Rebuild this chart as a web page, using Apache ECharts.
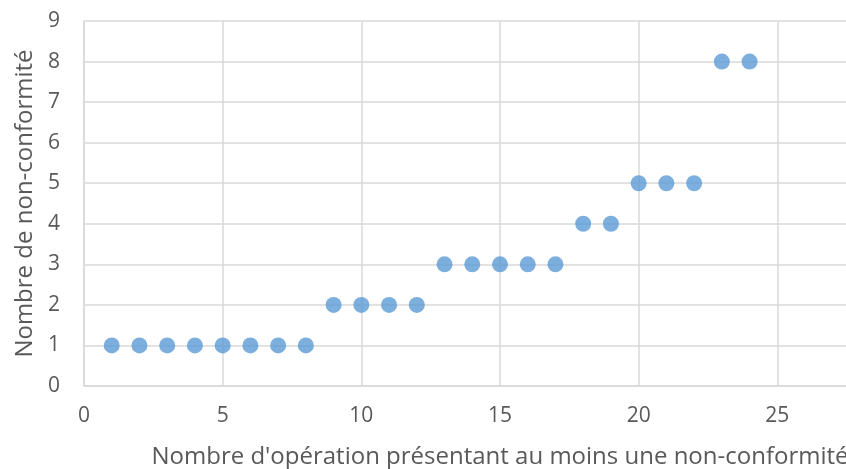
<!DOCTYPE html>
<html><head><meta charset="utf-8">
<script src="https://cdn.jsdelivr.net/npm/echarts@6/dist/echarts.min.js"></script>
<style>html,body{margin:0;padding:0;background:#fff}#c{width:846px;height:469px}</style>
</head><body><div id="c"></div>
<script>
const operations = [1,2,3,4,5,6,7,8,9,10,11,12,13,14,15,16,17,18,19,20,21,22,23,24];
const nonConformites = [1,1,1,1,1,1,1,1,2,2,2,2,3,3,3,3,3,4,4,5,5,5,8,8];
const xTitle = "Nombre d'opération présentant au moins une non-conformité";
const yTitle = "Nombre de non-conformité";
const font = "Open Sans";
const chart = echarts.init(document.getElementById('c'));
chart.setOption({
  animation: false,
  grid: {left: 84, right: -70, top: 21, bottom: 83, outerBoundsMode: 'none', containLabel: false},
  xAxis: {
    type: 'value', min: 0, max: 30, interval: 5,
    name: xTitle, nameLocation: 'middle', nameGap: 59,
    nameTextStyle: {color: '#595959', fontSize: 24, fontFamily: font},
    axisLine: {lineStyle: {color: '#d9d9d9', width: 1.5}},
    axisTick: {show: false},
    axisLabel: {color: '#595959', fontSize: 21, fontFamily: font, margin: 20},
    splitLine: {lineStyle: {color: '#d9d9d9', width: 1.5}}
  },
  yAxis: {
    type: 'value', min: 0, max: 9, interval: 1,
    name: yTitle, nameLocation: 'middle', nameGap: 46,
    nameTextStyle: {color: '#595959', fontSize: 24, fontFamily: font},
    axisLine: {show: true, lineStyle: {color: '#d9d9d9', width: 1.5}},
    axisTick: {show: false},
    axisLabel: {color: '#595959', fontSize: 21, fontFamily: font, margin: 24},
    splitLine: {lineStyle: {color: '#d9d9d9', width: 1.5}}
  },
  series: [{
    type: 'scatter',
    data: operations.map((x, i) => [x, nonConformites[i]]),
    symbolSize: 16,
    itemStyle: {color: '#5B9BD5'}
  }]
});
</script></body></html>
